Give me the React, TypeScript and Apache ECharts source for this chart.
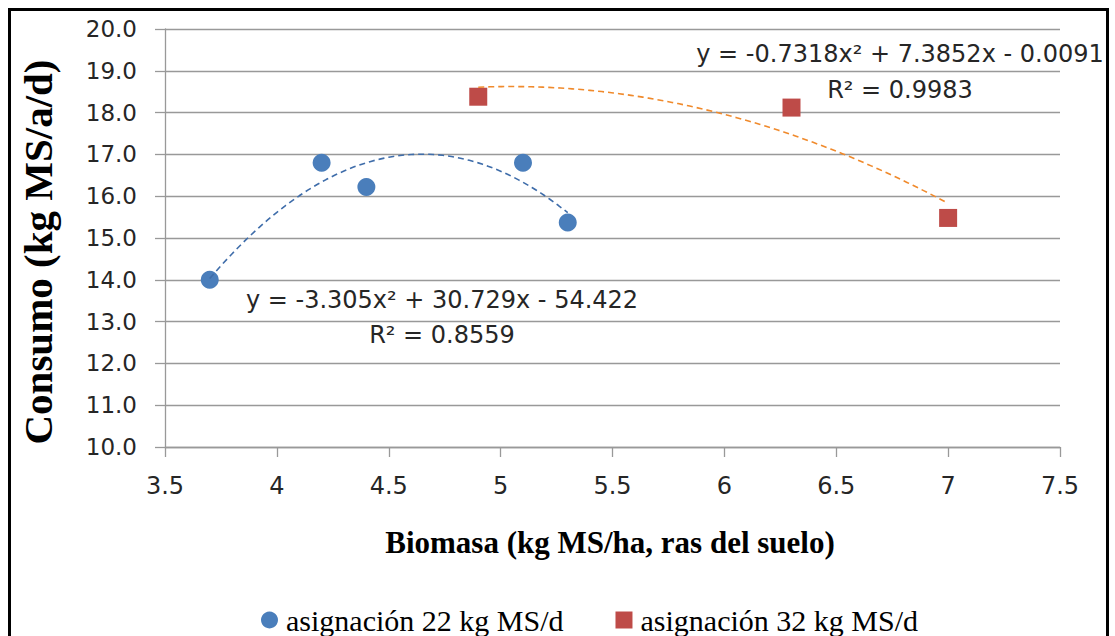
import React, { useEffect, useRef } from "react";
import * as echarts from "echarts";

const blueX = [3.7, 4.2, 4.4, 5.1, 5.3];
const blueY = [14.0, 16.8, 16.22, 16.8, 15.37];
const redX = [4.9, 6.3, 7.0];
const redY = [18.38, 18.12, 15.48];

// trendline coefficients shown in the chart (a, b, c for y = a x^2 + b x + c)
const blueTrend = [-3.305, 30.729, -54.422];
const redTrend = [-0.7318, 7.3852, -0.0091];

const yTicks = { min: 10, max: 20, interval: 1 };
const xTicks = { min: 3.5, max: 7.5, interval: 0.5 };

const blueName = "asignación 22 kg MS/d";
const redName = "asignación 32 kg MS/d";
const blueEq = "y = -3.305x² + 30.729x - 54.422";
const blueR2 = "R² = 0.8559";
const redEq = "y = -0.7318x² + 7.3852x - 0.0091";
const redR2 = "R² = 0.9983";
const xTitle = "Biomasa (kg MS/ha, ras del suelo)";
const yTitle = "Consumo (kg MS/a/d)";

function trend(coef: number[], x0: number, x1: number, n: number) {
  const pts: number[][] = [];
  for (let i = 0; i <= n; i++) {
    const x = x0 + ((x1 - x0) * i) / n;
    pts.push([x, coef[0] * x * x + coef[1] * x + coef[2]]);
  }
  return pts;
}

export default function App() {
  const ref = useRef<HTMLDivElement>(null);
  useEffect(() => {
    document.body.style.margin = "0";
    const chart = echarts.init(ref.current!, null, { renderer: "svg" });
    const tickFont = { fontFamily: "DejaVu Sans", fontSize: 23, color: "#262626" };
    const eqStyle = { fontFamily: "DejaVu Sans", fontSize: 24, fill: "#262626", align: "center", verticalAlign: "middle" };
    chart.setOption({
      animation: false,
      backgroundColor: "#fff",
      grid: { left: 165, right: 55, top: 29, bottom: 189, containLabel: false },
      xAxis: {
        type: "value",
        min: xTicks.min,
        max: xTicks.max,
        interval: xTicks.interval,
        axisLine: { show: true, lineStyle: { color: "#999", width: 1.3 } },
        axisTick: { show: true, length: 10, lineStyle: { color: "#999", width: 1.3 } },
        axisLabel: { ...tickFont, fontSize: 24, margin: 27 },
        splitLine: { show: false },
      },
      yAxis: {
        type: "value",
        min: yTicks.min,
        max: yTicks.max,
        interval: yTicks.interval,
        axisLine: { show: true, lineStyle: { color: "#999", width: 1.3 } },
        axisTick: { show: true, length: 10, lineStyle: { color: "#999", width: 1.3 } },
        axisLabel: { ...tickFont, margin: 28, formatter: (v: number) => v.toFixed(1) },
        splitLine: { show: true, lineStyle: { color: "#999", width: 1.3 } },
      },
      legend: {
        left: 256,
        top: 600,
        itemWidth: 17,
        itemHeight: 17,
        itemGap: 52,
        textStyle: { fontFamily: "Liberation Serif", fontSize: 30, color: "#000", padding: [0, 0, 0, 3] },
        data: [
          { name: blueName, icon: "circle", itemStyle: { color: "#4A7EBB", opacity: 1 } },
          { name: redName, icon: "rect", itemStyle: { color: "#BE4B48", opacity: 1 } },
        ],
      },
      series: [
        {
          name: blueName,
          type: "scatter",
          symbol: "circle",
          symbolSize: 18,
          itemStyle: { color: "#4A7EBB", opacity: 1 },
          data: blueX.map((x, i) => [x, blueY[i]]),
          z: 2,
        },
        {
          name: redName,
          type: "scatter",
          symbol: "rect",
          symbolSize: 18,
          itemStyle: { color: "#BE4B48", opacity: 1 },
          data: redX.map((x, i) => [x, redY[i]]),
          z: 2,
        },
        {
          name: "trend22",
          type: "line",
          showSymbol: false,
          symbol: "none",
          smooth: false,
          lineStyle: { color: "#3F6DAA", width: 1.6, type: [6, 4] },
          data: trend(blueTrend, blueX[0], blueX[blueX.length - 1], 80),
          z: 3,
          silent: true,
        },
        {
          name: "trend32",
          type: "line",
          showSymbol: false,
          symbol: "none",
          smooth: false,
          lineStyle: { color: "#F08A2C", width: 1.6, type: [6, 4] },
          data: trend(redTrend, redX[0], redX[redX.length - 1], 80),
          z: 3,
          silent: true,
        },
      ],
      graphic: [
        {
          type: "rect",
          shape: { x: 9.5, y: 9.5, width: 1098, height: 700 },
          style: { fill: "none", stroke: "#000", lineWidth: 3 },
          z: 100,
        },
        { type: "text", x: 442, y: 300, style: { ...eqStyle, text: blueEq } },
        { type: "text", x: 442, y: 335, style: { ...eqStyle, text: blueR2 } },
        { type: "text", x: 900, y: 54, style: { ...eqStyle, text: redEq } },
        { type: "text", x: 900, y: 90, style: { ...eqStyle, text: redR2 } },
        {
          type: "text",
          x: 610,
          y: 542,
          style: { text: xTitle, fontFamily: "Liberation Serif", fontWeight: "bold", fontSize: 31, fill: "#000", align: "center", verticalAlign: "middle" },
        },
        {
          type: "text",
          x: 38,
          y: 252,
          rotation: Math.PI / 2,
          style: { text: yTitle, fontFamily: "Liberation Serif", fontWeight: "bold", fontSize: 41, fill: "#000", align: "center", verticalAlign: "middle" },
        },
      ],
    });
    return () => chart.dispose();
  }, []);
  return <div ref={ref} style={{ width: 1115, height: 636 }} />;
}
